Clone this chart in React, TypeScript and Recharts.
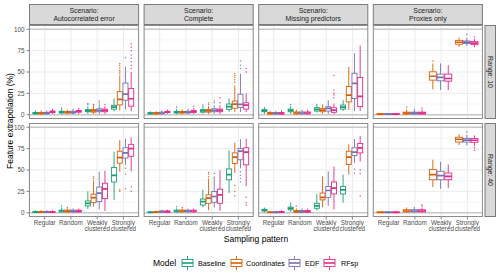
import React from 'react';
import { BarChart, Bar, XAxis, YAxis, CartesianGrid } from 'recharts';

// ---------- data ----------
const categories = ['Regular', 'Random', 'Weakly clustered', 'Strongly clustered'];
const models = ['Baseline', 'Coordinates', 'EDF', 'RFsp'];
const modelColors = ['#1B9E77', '#D95F02', '#7570B3', '#E7298A'];
const scenarios = ['Autocorrelated error', 'Complete', 'Missing predictors', 'Proxies only'];
const ranges = ['Range: 10', 'Range: 40'];
const yTicks = [0, 25, 50, 75, 100];
const yMinor = [12.5, 37.5, 62.5, 87.5];
const refLines = [0, 100];

// stats per box: [lower whisker, q1, median, q3, upper whisker, outliers]
type S = [number, number, number, number, number, number[]];

// rows = models, columns = categories
const autocorrelated10: S[][] = [
  [[0, 1, 1.8, 2.6, 5, []], [0.5, 2, 3, 4, 7, [8]], [1, 3.5, 4.5, 6, 10, [12, 13]], [4, 6.5, 9, 11, 19, []]],
  [[0, 0.9, 1.7, 2.5, 5, []], [0.5, 2, 2.8, 3.8, 6, []], [1, 3, 4.5, 6, 10, [11, 12]], [5, 11.5, 18, 27, 46, [48, 50, 52, 55, 58, 60]]],
  [[0, 1, 1.8, 2.8, 5, []], [0.5, 2, 2.8, 4, 7, []], [1, 3.5, 5, 7, 12, [14, 16]], [6, 17, 24, 37, 56, [67]]],
  [[1, 2.5, 3.3, 4.3, 7, []], [1, 3, 3.8, 5, 8, []], [1, 3.5, 5, 6.5, 10, [12]], [4, 10, 18.7, 30.8, 50, [54, 58, 62, 66, 70, 75, 79, 83]]],
];
const complete10: S[][] = [
  [[0, 1, 1.5, 2.5, 4, []], [0.5, 2, 3, 4, 7, [9]], [1, 3, 4.5, 6, 10, [11]], [3.5, 6.3, 9.4, 12.5, 19, []]],
  [[0, 1, 1.5, 2.5, 4, []], [0.5, 2, 2.8, 3.8, 6, []], [1, 3, 4.5, 6, 10, [12, 14]], [3, 7.5, 12.5, 16, 34, [38, 41, 44, 46, 48]]],
  [[0, 1, 2, 3, 5, []], [0.5, 2, 3, 4, 7, []], [1, 3.5, 5, 7, 11, [14, 16]], [3, 8.6, 12, 24, 48, [54, 58, 63]]],
  [[1, 2.5, 3.2, 4, 6, []], [1, 2.5, 3.5, 5, 8, [10]], [1, 3.5, 5, 6.5, 11, [14, 20]], [3, 6.6, 11.3, 14, 25, [50, 54]]],
];
const missing10: S[][] = [
  [[1, 3.5, 4.5, 6, 9, []], [1, 3.5, 5, 6.5, 10, [12]], [2.5, 4.3, 6.3, 8.2, 12.8, []], [4.3, 6.6, 9, 11.3, 17, []]],
  [[0, 0.8, 1.5, 2.5, 4.5, []], [0, 1, 2, 3.2, 6, []], [1, 3.5, 5.5, 7.5, 12, []], [5.5, 15, 23, 33, 56, []]],
  [[0, 0.8, 1.5, 2.5, 4.5, []], [0, 1, 2, 3.2, 6, []], [1, 4.3, 7.5, 9.4, 17, []], [4.3, 19, 36.6, 48.5, 72, []]],
  [[0, 0.8, 1.5, 2.5, 5, []], [0, 1, 2, 3.2, 6, []], [1, 2.8, 5.5, 8.2, 13, [20, 23, 25, 29, 46]], [4.3, 9.5, 21.5, 43.5, 81, []]],
];
const proxies10: S[][] = [
  [[0, 0.3, 0.6, 1.2, 2, []], [0, 0.8, 1.8, 3, 6, [9]], [29.6, 40.5, 45, 50.2, 60, [63]], [79.3, 82.5, 84.8, 87, 90.3, []]],
  [[0, 0.3, 0.6, 1.2, 2, []], [0, 0.8, 1.8, 3, 7, []], [28.8, 39.7, 43.6, 47.5, 60, []], [80.5, 83.3, 85, 86.3, 90, [93.8]]],
  [[0, 0.3, 0.6, 1.2, 2, []], [0, 0.8, 1.8, 3, 6, [8]], [28.8, 39.3, 42.4, 47.5, 58, []], [79, 82, 83.8, 85.6, 89, [91]]],
];
const autocorrelated40: S[][] = [
  [[0, 0.3, 0.8, 1.5, 3, []], [0, 1, 2, 3, 6, [8]], [4.4, 7.9, 11, 13.8, 25, []], [15, 36, 43.7, 53, 71.4, []]],
  [[0, 0.3, 0.8, 1.5, 3, []], [0, 0.8, 1.8, 3, 5, [6]], [7, 11.8, 17.7, 21.7, 38, [40, 42]], [48, 58, 64.5, 72, 85, [25, 27]]],
  [[0, 0.3, 0.8, 1.5, 3, []], [0, 0.8, 1.8, 3, 5, []], [4, 13, 23, 30, 48, []], [56, 64, 70, 76, 86.7, [28, 45, 52]]],
  [[0, 0.3, 0.8, 1.5, 3, []], [0, 0.8, 1.8, 3, 5, []], [2, 16.5, 27.8, 34.5, 49, []], [48.5, 66, 75, 80, 88, [25, 30]]],
];
const complete40: S[][] = [
  [[0, 0.2, 0.5, 1, 2, []], [0, 1, 2, 3, 5, [7]], [6.3, 9, 13, 16, 26.8, []], [23, 38.6, 44.6, 51.3, 73, []]],
  [[0, 0.2, 0.6, 1.2, 2.5, []], [0, 1, 2, 3, 5, [6]], [3, 11, 17, 21, 40, [42, 45, 47]], [46.5, 57.6, 65, 70, 82, [20, 25, 32]]],
  [[0, 0.5, 1.2, 2, 3.5, []], [0, 1, 2, 3, 5, []], [6, 12.3, 19, 24.8, 42.6, [46]], [52, 62, 72, 75, 86, [36, 40, 44, 48]]],
  [[0, 0.5, 1.2, 2, 3.5, []], [0, 1, 2, 3, 5, []], [2.4, 11, 21, 27.6, 49.6, []], [31, 56, 71, 76, 86.7, [9, 12, 18]]],
];
const missing40: S[][] = [
  [[0.5, 2, 3, 4, 6, []], [1, 3.5, 5, 6.5, 10, [11]], [2.4, 5.2, 8, 11, 22, []], [11.8, 22, 26.8, 30.7, 44.6, []]],
  [[0, 0.2, 0.5, 1, 2, []], [0, 0.5, 1.2, 2.5, 5, [8]], [6.3, 15, 18, 23, 42.6, []], [44.6, 56.4, 65, 72, 80, []]],
  [[0, 0.2, 0.5, 1.2, 2.5, []], [0, 0.5, 1.2, 2.5, 5, []], [8, 18, 26, 30.7, 48.5, []], [58, 67, 71, 76, 86, [46.5, 51]]],
  [[0, 0.3, 0.8, 1.5, 3, []], [0, 0.5, 1.2, 2.5, 5, []], [4, 22, 28.8, 36, 54, []], [60, 70, 76, 81, 90, [19.7, 46, 50]]],
];
const proxies40: S[][] = [
  [[0, 0.2, 0.5, 0.9, 1.5, []], [0, 1, 2, 3.5, 6, []], [30, 38.6, 44.6, 50.5, 62, []], [79.2, 82.7, 86, 88.3, 91.8, []]],
  [[0, 0.2, 0.5, 0.9, 2, []], [0, 1, 2, 3.5, 7, []], [28, 38.6, 43.4, 48.5, 59.6, []], [79, 82.7, 85, 87, 91, [94.5]]],
  [[0, 0.2, 0.5, 0.9, 2, []], [0, 1, 2, 3.5, 6, [8, 9]], [28.8, 38.6, 42.6, 46.5, 56.4, []], [78, 82.4, 84.8, 86.8, 90.5, [73, 76]]],
];

const allModels = models;
const proxyModels = ['Coordinates', 'EDF', 'RFsp'];
const panelStats: S[][][][] = [
  [autocorrelated10, complete10, missing10, proxies10],
  [autocorrelated40, complete40, missing40, proxies40],
];

// ---------- layout ----------
const FONT = '"Liberation Sans", Arial, Helvetica, sans-serif';
const colLeft = [29, 143.6, 258.2, 372.8];
const panelW = 110.1;
const rowTop = [25, 123];
const panelH = 94;
const yAxisW = 29;
const xAxisH = 24;
const stripTop = 4;
const rightStripX = 484.5;
const rightStripW = 11.5;

const colorOf = (m: string) => modelColors[models.indexOf(m)];

const makeBox = (m: string, color: string) => (props: any) => {
  const { x, y, width, height, payload } = props;
  const s: S = payload[m];
  if (!s) return null;
  const top = Math.min(y, y + height);
  const h = Math.abs(height);
  const k = h / (s[3] - s[1]);
  const py = (v: number) => top + h - (v - s[1]) * k;
  const cx = x + width / 2;
  return (
    <g>
      <line x1={cx} x2={cx} y1={py(s[3])} y2={py(s[4])} stroke={color} strokeWidth={0.9} />
      <line x1={cx} x2={cx} y1={py(s[1])} y2={py(s[0])} stroke={color} strokeWidth={0.9} />
      <rect x={x} y={top} width={width} height={h} fill="#ffffff" stroke={color} strokeWidth={0.9} />
      <line x1={x} x2={x + width} y1={py(s[2])} y2={py(s[2])} stroke={color} strokeWidth={1.7} />
      {s[5].map((o, i) => (
        <circle key={i} cx={cx} cy={py(o)} r={0.75} fill={color} fillOpacity={0.85} />
      ))}
    </g>
  );
};

const XTick = (props: any) => {
  const { x, y, payload } = props;
  const parts = String(payload.value).split(' ');
  return (
    <text x={x} y={y} textAnchor="middle" fontSize={6.3} fill="#4d4d4d" fontFamily={FONT}>
      {parts.map((p, i) => (
        <tspan key={i} x={x} dy={i === 0 ? 5.4 : 6.5}>{p}</tspan>
      ))}
    </text>
  );
};

function Panel({ row, col }: { row: number; col: number }) {
  const stats = panelStats[row][col];
  const pModels = col === 3 ? proxyModels : allModels;
  const data = categories.map((c, ci) => {
    const d: any = { cat: c };
    pModels.forEach((m, mi) => {
      d[m] = stats[mi][ci];
    });
    return d;
  });
  const showY = col === 0;
  const showX = row === 1;
  const w = panelW + (showY ? yAxisW : 0);
  const h = panelH + (showX ? xAxisH : 0);
  return (
    <div style={{ position: 'absolute', left: showY ? colLeft[0] - yAxisW : colLeft[col], top: rowTop[row] }}>
      <BarChart
        width={w}
        height={h}
        data={data}
        margin={{ top: 0, right: 0, bottom: 0, left: 0 }}
        barCategoryGap="5%"
        barGap={0.7}
      >
        <CartesianGrid horizontal={false} vertical stroke="#ebebeb" strokeWidth={1} />
        <CartesianGrid horizontalValues={yMinor} vertical={false} stroke="#ebebeb" strokeWidth={0.5} />
        <CartesianGrid horizontalValues={yTicks} vertical={false} stroke="#ebebeb" strokeWidth={1} />
        <CartesianGrid horizontalValues={refLines} vertical={false} stroke="#c8c8c8" strokeWidth={1.6} />
        <XAxis
          dataKey="cat"
          type="category"
          hide={!showX}
          height={xAxisH}
          padding={{ left: 2.6, right: 2.6 }}
          axisLine={false}
          tickLine={{ stroke: '#333333', strokeWidth: 0.6 }}
          tickSize={2.5}
          tickMargin={0}
          interval={0}
          tick={<XTick />}
        />
        <YAxis
          type="number"
          domain={[-5, 105]}
          allowDataOverflow
          ticks={yTicks}
          interval={0}
          hide={!showY}
          width={yAxisW}
          axisLine={false}
          tickLine={{ stroke: '#333333', strokeWidth: 0.6 }}
          tickSize={2.5}
          tickMargin={2}
          tick={{ fontSize: 6.3, fill: '#4d4d4d', fontFamily: FONT }}
        />
        {pModels.map((m) => (
          <Bar
            key={m}
            dataKey={(d: any) => [d[m][1], d[m][3]]}
            name={m}
            isAnimationActive={false}
            shape={makeBox(m, colorOf(m))}
          />
        ))}
      </BarChart>
    </div>
  );
}

function Overlay() {
  const legendKeys = [182, 231, 289, 324];
  const legendText = [198, 246, 305, 341];
  return (
    <svg
      width={500}
      height={273}
      style={{ position: 'absolute', left: 0, top: 0, pointerEvents: 'none' }}
      fontFamily={FONT}
    >
      {/* top strips */}
      {scenarios.map((s, c) => (
        <g key={s}>
          <rect x={colLeft[c] + 0.5} y={stripTop + 0.5} width={panelW - 1} height={rowTop[0] - stripTop - 1} fill="#d9d9d9" stroke="#7a7a7a" strokeWidth={1} />
          <text x={colLeft[c] + panelW / 2} y={13.4} textAnchor="middle" fontSize={6.9} fill="#1a1a1a">Scenario:</text>
          <text x={colLeft[c] + panelW / 2} y={20.9} textAnchor="middle" fontSize={6.9} fill="#1a1a1a">{s}</text>
        </g>
      ))}
      {/* right strips */}
      {ranges.map((r, i) => (
        <g key={r}>
          <rect x={rightStripX + 0.5} y={rowTop[i] + 0.5} width={rightStripW - 1} height={panelH - 1} fill="#d9d9d9" stroke="#7a7a7a" strokeWidth={1} />
          <text
            x={rightStripX + rightStripW / 2}
            y={rowTop[i] + panelH / 2}
            textAnchor="middle"
            dominantBaseline="central"
            fontSize={6.9}
            fill="#1a1a1a"
            transform={`rotate(90 ${rightStripX + rightStripW / 2} ${rowTop[i] + panelH / 2})`}
          >
            {r}
          </text>
        </g>
      ))}
      {/* panel borders */}
      {rowTop.map((t) =>
        colLeft.map((l) => (
          <rect key={`${t}-${l}`} x={l + 0.5} y={t + 0.5} width={panelW - 1} height={panelH - 1} fill="none" stroke="#8c8c8c" strokeWidth={1} />
        ))
      )}
      {/* axis titles */}
      <text x={256} y={242} textAnchor="middle" fontSize={8.5} fill="#000">Sampling pattern</text>
      <text
        x={10}
        y={121}
        textAnchor="middle"
        dominantBaseline="central"
        fontSize={8.5}
        fill="#000"
        transform="rotate(-90 10 121)"
      >
        Feature extrapolation (%)
      </text>
      {/* legend */}
      <text x={153} y={266} fontSize={8.5} fill="#000">Model</text>
      {models.map((m, i) => {
        const kx = legendKeys[i];
        const c = modelColors[i];
        return (
          <g key={m}>
            <line x1={kx + 5.5} x2={kx + 5.5} y1={256} y2={259.5} stroke={c} strokeWidth={0.9} />
            <line x1={kx + 5.5} x2={kx + 5.5} y1={266.5} y2={270} stroke={c} strokeWidth={0.9} />
            <rect x={kx} y={259.5} width={11} height={7} fill="#fff" stroke={c} strokeWidth={0.9} />
            <line x1={kx} x2={kx + 11} y1={263} y2={263} stroke={c} strokeWidth={1.6} />
            <text x={legendText[i]} y={265.5} fontSize={7.2} fill="#000">{m}</text>
          </g>
        );
      })}
    </svg>
  );
}

export default function App() {
  return (
    <div style={{ position: 'absolute', left: 0, top: 0, width: 500, height: 273, background: '#ffffff', overflow: 'hidden' }}>
      {[0, 1].map((r) => [0, 1, 2, 3].map((c) => <Panel key={`${r}-${c}`} row={r} col={c} />))}
      <Overlay />
    </div>
  );
}
